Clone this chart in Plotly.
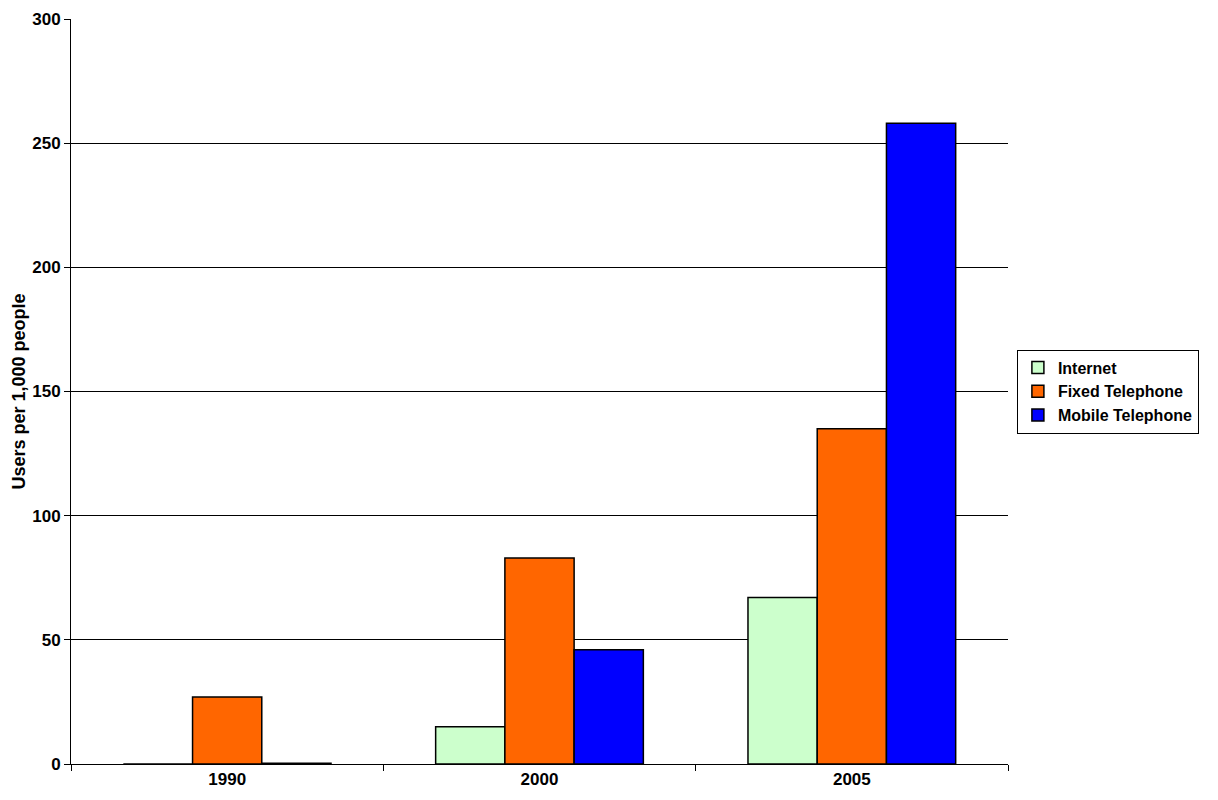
import plotly.graph_objects as go

years = ['1990', '2000', '2005']
internet = [0, 15, 67]
fixed_tel = [27, 83, 135]
mobile_tel = [0.3, 46, 258]

series = [
    ('Internet', internet, '#ccffcc'),
    ('Fixed Telephone', fixed_tel, '#ff6600'),
    ('Mobile Telephone', mobile_tel, '#0000ff'),
]

fig = go.Figure()
for name, vals, col in series:
    fig.add_trace(go.Bar(x=years, y=vals, name=name, marker_color=col,
                         marker_line_color='black', marker_line_width=1.5))

FAM = 'Liberation Sans, Arial, sans-serif'
tick_font = dict(family=FAM, size=17, color='black', weight='bold')
title_font = dict(family=FAM, size=18, color='black', weight='bold')

# the page body adds an 8px margin, so keep the figure a bit under the window size
fig.update_layout(
    width=1202, height=784,
    margin=dict(l=63, r=192, t=11, b=28),
    paper_bgcolor='white', plot_bgcolor='white',
    barmode='group', bargap=0.335, bargroupgap=0,
    font=tick_font,
    showlegend=True,
    legend=dict(x=1.0095, y=0.5, xanchor='left', yanchor='middle',
                bordercolor='black', borderwidth=1, bgcolor='white',
                font=dict(family=FAM, size=16, color='black', weight='bold'),
                itemwidth=30, tracegroupgap=0),
    xaxis=dict(showline=True, linecolor='black', linewidth=1, automargin=False,
               ticks='outside', tickson='boundaries', ticklen=6, tickcolor='black',
               tickfont=tick_font, showgrid=False),
    yaxis=dict(range=[0, 300], tickvals=[0, 50, 100, 150, 200, 250, 300],
               showline=True, linecolor='black', linewidth=1,
               automargin=False, ticklabeloverflow='allow',
               ticks='outside', ticklen=6, tickcolor='black',
               showgrid=True, gridcolor='black', gridwidth=1,
               zeroline=False,
               title=dict(text='Users per 1,000 people', standoff=1, font=title_font),
               tickfont=tick_font),
)

fig.write_html("out.html")
